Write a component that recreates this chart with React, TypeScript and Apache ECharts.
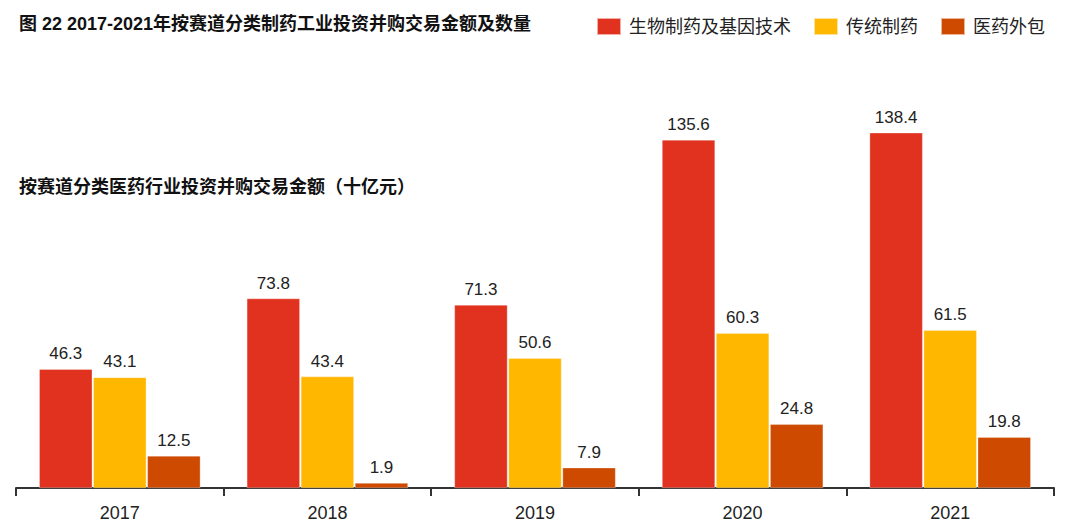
import React, { useEffect, useRef } from "react";
import * as echarts from "echarts";

const years = ["2017", "2018", "2019", "2020", "2021"];
const bioPharma = [46.3, 73.8, 71.3, 135.6, 138.4];
const traditional = [43.1, 43.4, 50.6, 60.3, 61.5];
const outsourcing = [12.5, 1.9, 7.9, 24.8, 19.8];
const seriesNames = ["生物制药及基因技术", "传统制药", "医药外包"];
const colors = ["#E0321F", "#FFB700", "#CE4A00"];

const FONT = "'Liberation Sans', 'Noto Sans CJK SC', sans-serif";

export default function App() {
  const ref = useRef<HTMLDivElement>(null);
  useEffect(() => {
    if (!ref.current) return;
    const chart = echarts.init(ref.current, undefined, { renderer: "svg" });
    const datasets = [bioPharma, traditional, outsourcing];
    chart.setOption({
      animation: false,
      backgroundColor: "#ffffff",
      textStyle: { fontFamily: FONT },
      title: [
        {
          text: "图 22 2017-2021年按赛道分类制药工业投资并购交易金额及数量",
          left: 14,
          top: 10,
          textStyle: { fontSize: 18, fontWeight: "bold", color: "#111", fontFamily: FONT },
        },
        {
          text: "按赛道分类医药行业投资并购交易金额（十亿元）",
          left: 14,
          top: 173,
          textStyle: { fontSize: 18, fontWeight: "bold", color: "#111", fontFamily: FONT },
        },
      ],
      legend: {
        right: 30,
        top: 12,
        itemWidth: 24,
        itemHeight: 17,
        itemGap: 22,
        icon: "rect",
        textStyle: { fontSize: 18, color: "#222", fontFamily: FONT, padding: [0, 0, 0, 3] },
        data: seriesNames,
      },
      grid: { left: 16, right: 26, top: 103, bottom: 43, containLabel: false },
      xAxis: {
        type: "category",
        data: years,
        axisLine: { lineStyle: { color: "#333", width: 2 } },
        axisTick: { show: true, length: 8, lineStyle: { color: "#333", width: 2 } },
        axisLabel: { fontSize: 18, color: "#222", margin: 16, fontFamily: FONT },
      },
      yAxis: {
        type: "value",
        min: 0,
        max: 150,
        show: false,
        splitLine: { show: false },
      },
      series: datasets.map((d, i) => ({
        name: seriesNames[i],
        type: "bar",
        data: d,
        barWidth: 53,
        barGap: "2%",
        itemStyle: { color: colors[i], borderColor: "rgba(255,255,255,0.6)", borderWidth: 0.5 },
        label: {
          show: true,
          position: "top",
          distance: 7,
          fontSize: 17,
          color: "#222",
          fontFamily: FONT,
          formatter: (p: any) => Number(p.value).toFixed(1),
        },
      })),
    });
    return () => chart.dispose();
  }, []);
  return (
    <div
      ref={ref}
      style={{ position: "fixed", left: 0, top: 0, width: 1080, height: 531 }}
    />
  );
}
